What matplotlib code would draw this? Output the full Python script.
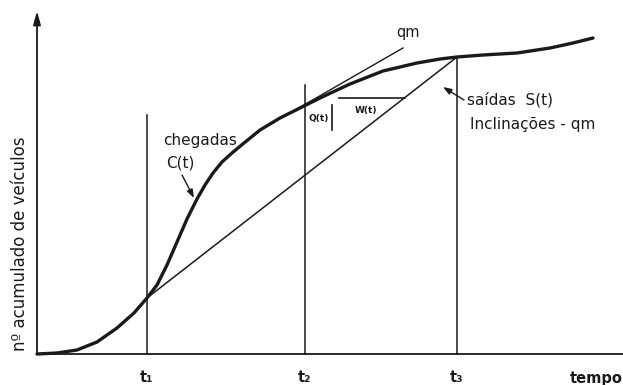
import matplotlib
matplotlib.use("Agg")
import matplotlib.pyplot as plt

# Cumulative arrivals C(t): time vs. number of vehicles
arrival_time = [0, 20, 40, 60, 80, 97, 110, 120, 130, 140, 150, 160, 168,
                176, 185, 195, 207, 223, 243, 263, 283, 313, 346, 380, 403,
                420, 446, 480, 513, 536, 556]
arrival_count = [0, 1, 4, 12, 26, 41, 56, 69, 89, 112, 135, 155, 169,
                 181, 192, 201, 211, 224, 236, 246, 256, 270, 283, 291, 295,
                 297, 299, 301, 306, 311, 316]

# Reference instants on the time axis
t_marks = [110, 268, 420]
t_labels = ["t₁", "t₂", "t₃"]

# Departures S(t): straight line from C(t1) to C(t3)
departure_time = [110, 420]
departure_count = [56, 297]

# Tangent to C(t) with slope qm
tangent_time = [253, 366]
tangent_count = [241, 306]

# Heights of the vertical marker lines at t1, t2, t3
mark_heights = [239, 269, 297]

# Waiting time w(t) and queue Q(t) markers
wait_time = [302, 368]
wait_count = 256
queue_time = 295
queue_count = [224, 249]

fig = plt.figure(figsize=(6.23, 3.85), dpi=100)
ax = fig.add_axes([0, 0, 1, 1])
ax.set_xlim(-37, 586)
ax.set_ylim(-31, 354)
ax.axis("off")

ink = "#1a1a1a"

# axes
ax.plot([0, 586], [0, 0], color=ink, lw=1.3, solid_capstyle="butt")
ax.annotate("", xy=(0, 343), xytext=(0, 0),
            arrowprops=dict(arrowstyle="-|>,head_length=0.8,head_width=0.22",
                            color=ink, lw=1.3, shrinkA=0, shrinkB=0))

# vertical lines at t1, t2, t3
for t, h in zip(t_marks, mark_heights):
    ax.plot([t, t], [0, h], color=ink, lw=1.1)

# cumulative arrivals
ax.plot(arrival_time, arrival_count, color=ink, lw=2.4,
        solid_joinstyle="round", solid_capstyle="round")

# departures and tangent
ax.plot(departure_time, departure_count, color=ink, lw=1.1)
ax.plot(tangent_time, tangent_count, color=ink, lw=1.0)

# waiting time and queue markers
ax.plot(wait_time, [wait_count, wait_count], color=ink, lw=1.2)
ax.plot([queue_time, queue_time], queue_count, color=ink, lw=1.2)

font = dict(family="DejaVu Sans", color=ink)

# tick labels
for t, lab in zip(t_marks, t_labels):
    ax.text(t, -24, lab, ha="center", va="center", fontsize=10.5,
            fontweight="bold", **font)
ax.text(533, -24, "tempo", ha="left", va="center", fontsize=10.5,
        fontweight="bold", **font)

ax.text(-17, 110, "nº acumulado de veículos", rotation=90, ha="center",
        va="center", fontsize=12, **font)

ax.text(163, 214, "chegadas", ha="center", va="center", fontsize=11, **font)
ax.text(143, 191, "C(t)", ha="center", va="center", fontsize=11, **font)
ax.annotate("", xy=(157, 156), xytext=(145, 179),
            arrowprops=dict(arrowstyle="-|>,head_length=0.5,head_width=0.18",
                            color=ink, lw=1.0, shrinkA=0, shrinkB=0))

ax.text(371, 321, "qm", ha="center", va="center", fontsize=10.5, **font)

ax.text(430, 254, "saídas  S(t)", ha="left", va="center", fontsize=11, **font)
ax.text(433, 229, "Inclinações - qm", ha="left", va="center", fontsize=11, **font)
ax.annotate("", xy=(406, 267), xytext=(427, 254),
            arrowprops=dict(arrowstyle="-|>,head_length=0.5,head_width=0.18",
                            color=ink, lw=1.0, shrinkA=0, shrinkB=0))

ax.text(329, 243, "W(t)", ha="center", va="center", fontsize=6.5,
        fontweight="bold", **font)
ax.text(282, 236, "Q(t)", ha="center", va="center", fontsize=6.5,
        fontweight="bold", **font)

fig.savefig("out.png", dpi=100, facecolor="white")
